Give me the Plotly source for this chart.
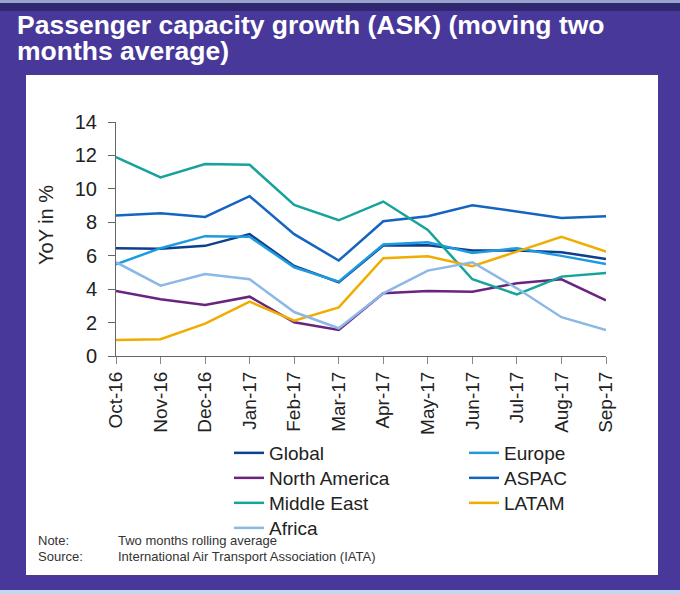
import plotly.graph_objects as go

# Data: moving two-month average of ASK growth, YoY in %
months = ["Oct-16", "Nov-16", "Dec-16", "Jan-17", "Feb-17", "Mar-17",
          "Apr-17", "May-17", "Jun-17", "Jul-17", "Aug-17", "Sep-17"]

global_ = [6.45, 6.41, 6.59, 7.29, 5.39, 4.41, 6.61, 6.63, 6.31, 6.31, 6.21, 5.81]
europe = [5.49, 6.45, 7.17, 7.13, 5.31, 4.45, 6.67, 6.81, 6.17, 6.45, 5.99, 5.51]
north_america = [3.89, 3.39, 3.05, 3.55, 2.02, 1.56, 3.75, 3.89, 3.85, 4.35, 4.59, 3.33]
aspac = [8.40, 8.54, 8.32, 9.56, 7.29, 5.71, 8.06, 8.36, 9.02, 8.66, 8.26, 8.36]
middle_east = [11.90, 10.68, 11.48, 11.44, 9.04, 8.12, 9.24, 7.54, 4.59, 3.69, 4.75, 4.97]
latam = [0.96, 1.00, 1.94, 3.25, 2.11, 2.91, 5.85, 5.97, 5.37, 6.25, 7.13, 6.25]
africa = [5.61, 4.21, 4.91, 4.59, 2.63, 1.66, 3.75, 5.11, 5.61, 4.05, 2.32, 1.56]

W, H = 680, 594
L, R, T, B = 116, 74, 122, 238
PW, PH = W - L - R, H - T - B

PURPLE = "#48389a"
FONT = "Liberation Sans, Arial, sans-serif"


def px(x):
    return (x - L) / PW


def py(y):
    return (H - B - y) / PH


# name, values, colour, legend slot (left pixel, top pixel)
series = [
    ("Global", global_, "#0e3f8f", (229, 434)),
    ("Europe", europe, "#1e9ae0", (464, 434)),
    ("North America", north_america, "#6a237f", (229, 459)),
    ("ASPAC", aspac, "#1565c0", (464, 459)),
    ("Middle East", middle_east, "#16a39b", (229, 484)),
    ("LATAM", latam, "#f0ad00", (464, 484)),
    ("Africa", africa, "#8cb8e8", (229, 509)),
]

fig = go.Figure()
legends = {}
for i, (name, vals, color, (lx, ly)) in enumerate(series):
    leg = "legend" if i == 0 else f"legend{i + 1}"
    fig.add_trace(go.Scatter(
        x=months, y=vals, name=name, mode="lines",
        line=dict(color=color, width=2.5),
        legend=leg,
    ))
    legends[leg] = dict(
        x=px(lx), y=py(ly), xref="paper", yref="paper",
        xanchor="left", yanchor="top", bgcolor="rgba(0,0,0,0)",
        font=dict(family=FONT, size=19, color="#222"),
        itemwidth=30,
    )

shapes = [
    # white panel
    dict(type="rect", xref="paper", yref="paper", layer="below",
         x0=px(26), x1=px(658), y0=py(575), y1=py(75),
         fillcolor="white", line_width=0),
    # top strip
    dict(type="rect", xref="paper", yref="paper", layer="below",
         x0=px(0), x1=px(W), y0=py(3), y1=py(0),
         fillcolor="#97a3c9", line_width=0),
    dict(type="rect", xref="paper", yref="paper", layer="below",
         x0=px(0), x1=px(W), y0=py(11), y1=py(3),
         fillcolor="#2f2870", line_width=0),
    # bottom strip
    dict(type="rect", xref="paper", yref="paper", layer="below",
         x0=px(0), x1=px(W), y0=py(H), y1=py(590),
         fillcolor="#c4d9f1", line_width=0),
]

note_font = dict(family=FONT, size=13, color="#333")
annotations = [
    dict(text="<b>Passenger capacity growth (ASK) (moving two</b>",
         x=px(15), y=py(25), xref="paper", yref="paper",
         xanchor="left", yanchor="middle", showarrow=False,
         font=dict(family=FONT, size=26.5, color="white")),
    dict(text="<b>months average)</b>",
         x=px(15), y=py(51), xref="paper", yref="paper",
         xanchor="left", yanchor="middle", showarrow=False,
         font=dict(family=FONT, size=26.5, color="white")),
    dict(text="YoY in %", textangle=-90, x=px(46), y=py(225),
         xref="paper", yref="paper", xanchor="center", yanchor="middle",
         showarrow=False, font=dict(family=FONT, size=20, color="#222")),
    dict(text="Note:", x=px(36), y=py(540), xref="paper", yref="paper",
         xanchor="left", yanchor="middle", showarrow=False, font=note_font),
    dict(text="Two months rolling average", x=px(116), y=py(540),
         xref="paper", yref="paper", xanchor="left", yanchor="middle",
         showarrow=False, font=note_font),
    dict(text="Source:", x=px(36), y=py(556), xref="paper", yref="paper",
         xanchor="left", yanchor="middle", showarrow=False, font=note_font),
    dict(text="International Air Transport Association (IATA)", x=px(116),
         y=py(556), xref="paper", yref="paper", xanchor="left",
         yanchor="middle", showarrow=False, font=note_font),
]

fig.update_layout(
    width=W, height=H,
    margin=dict(l=L, r=R, t=T, b=B),
    paper_bgcolor=PURPLE,
    plot_bgcolor="rgba(0,0,0,0)",
    shapes=shapes,
    annotations=annotations,
    showlegend=True,
    xaxis=dict(
        type="category", range=[0, 11], tickangle=-90,
        showline=True, linecolor="#666", linewidth=1,
        ticks="outside", ticklen=7, tickcolor="#888",
        showgrid=False, zeroline=False,
        tickfont=dict(family=FONT, size=19, color="#222"),
    ),
    yaxis=dict(
        range=[0, 14], dtick=2,
        showline=True, linecolor="#666", linewidth=1,
        ticks="outside", ticklen=7, tickcolor="#666",
        ticklabelstandoff=7,
        showgrid=False, zeroline=False,
        tickfont=dict(family=FONT, size=20, color="#222"),
    ),
    **legends,
)

fig.write_html("out.html",
               config={"displayModeBar": False},
               post_script="document.body.style.margin='0';")
